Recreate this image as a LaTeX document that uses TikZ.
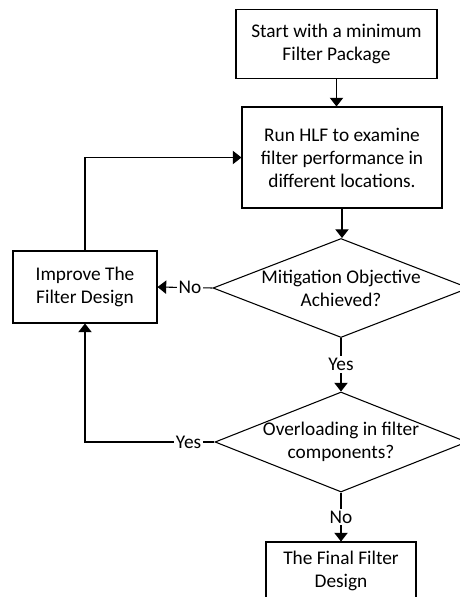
\documentclass[tikz,border=0pt]{standalone}
\usepackage{fontspec}
\setmainfont{Carlito}
\usetikzlibrary{shapes.geometric,arrows.meta}

\begin{document}
\begin{tikzpicture}[x=0.75pt,y=-0.75pt,
	every node/.style={font=\fontsize{14.5}{17.3}\selectfont,align=center},
	box/.style={draw,line width=0.8pt,inner sep=2pt},
	dec/.style={draw,diamond,line width=0.8pt,inner sep=0pt},
	arr/.style={line width=0.8pt,-{Triangle[width=10pt,length=6.5pt]}},
	lbl/.style={fill=white,inner sep=1.5pt}]
			\useasboundingbox (0,0) rectangle (460,597);
			\clip (0,0) rectangle (460,597);
			
			\node[box,minimum width=150.75pt,minimum height=51.75pt] (start) at (336.5,44) {Start with a minimum\\Filter Package};
			\node[box,minimum width=150pt,minimum height=75.75pt] (run) at (342,157.5) {Run HLF to examine\\filter performance in\\different locations.};
			\node[dec,minimum width=192pt,minimum height=74.25pt] (D1) at (341,288) {};
			\node at (D1) {Mitigation Objective\\Achieved?};
			\node[box,minimum width=108pt,minimum height=54pt] (improve) at (85,287) {Improve The\\Filter Design};
			\node[dec,minimum width=189pt,minimum height=75pt] (D2) at (341,442) {};
			\node at (D2) {Overloading in filter\\components?};
			\node[box,minimum width=112.5pt,minimum height=43.5pt] (final) at (341,571) {The Final Filter\\Design};
			
			\draw[arr] (start) -- (start |- run.north);
			\draw[arr] (run) -- (run |- D1.north);
			\draw[arr] (D1.west) -- node[lbl,pos=0.41] {No} (improve.east);
			\draw[arr] (D1.south) -- node[lbl] {Yes} (D2.north);
			\draw[arr] (D2.west) -- node[lbl,pos=0.2] {Yes} (improve |- D2.west) -- (improve.south);
			\draw[arr] (D2.south) -- node[lbl] {No} (final.north);
			\draw[arr] (improve.north) |- (run.west);
\end{tikzpicture}
\end{document}
